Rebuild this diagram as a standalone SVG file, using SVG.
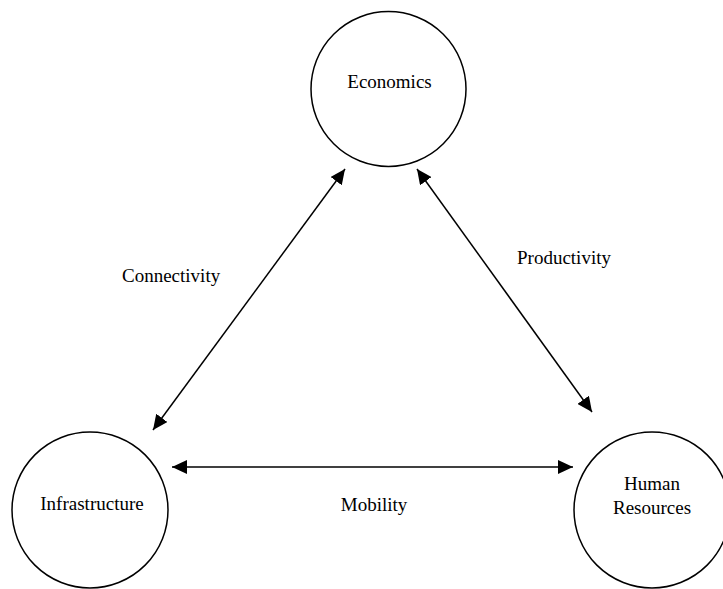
<svg xmlns="http://www.w3.org/2000/svg" width="723" height="589" viewBox="0 0 723 589">
<style>
.node{fill:#fff;stroke:#000;stroke-width:1.5}
.t{font-family:"Liberation Serif","Times New Roman",serif;font-size:19px;fill:#000;text-anchor:middle}
.lbl{font-family:"Liberation Serif","Times New Roman",serif;font-size:19px;fill:#000}
.c{stroke:#000;stroke-width:1.5;fill:none;marker-start:url(#ah);marker-end:url(#ah)}
</style>
<defs>
<marker id="ah" viewBox="0 0 15 14" refX="15" refY="7" markerWidth="15" markerHeight="14" markerUnits="userSpaceOnUse" orient="auto-start-reverse">
<path d="M0,0 L15,7 L0,14 Z" fill="#000"/>
</marker>
</defs>
<rect width="723" height="589" fill="#fff"/>
<g id="economics">
<circle class="node" cx="388.5" cy="89" r="77.5"/>
<text class="t" x="389.5" y="88">Economics</text>
</g>
<g id="infrastructure">
<circle class="node" cx="90" cy="510" r="78"/>
<text class="t" x="92" y="510">Infrastructure</text>
</g>
<g id="human-resources">
<circle class="node" cx="652" cy="510" r="78"/>
<text class="t" x="652" y="490">Human</text>
<text class="t" x="652" y="514">Resources</text>
</g>
<g id="connectors">
<line class="c" x1="153" y1="430" x2="345" y2="169"/>
<line class="c" x1="417" y1="169" x2="592" y2="412"/>
<line class="c" x1="172" y1="467" x2="573" y2="467"/>
</g>
<g id="labels">
<text class="lbl" x="122" y="282">Connectivity</text>
<text class="lbl" x="517" y="264">Productivity</text>
<text class="t" x="374" y="511">Mobility</text>
</g>
</svg>
